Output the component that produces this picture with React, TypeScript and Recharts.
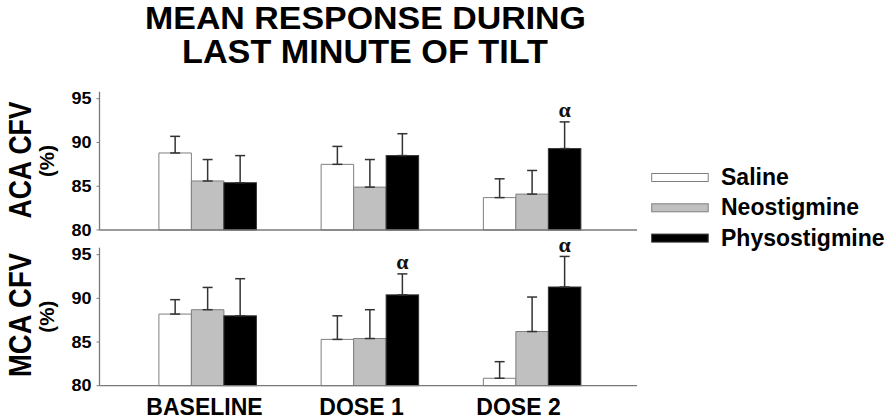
import React from 'react';
import { BarChart, Bar, XAxis, YAxis, ErrorBar, Legend } from 'recharts';

const FONT = '"Liberation Sans", Arial, Helvetica, sans-serif';

// ---- data ----
const categories = ['BASELINE', 'DOSE 1', 'DOSE 2'];
const seriesNames = ['Saline', 'Neostigmine', 'Physostigmine'];
const yTicks = [80, 85, 90, 95];

const acaSaline = [88.8, 87.5, 83.7];
const acaSalineErr = [1.9, 2.05, 2.15];
const acaNeo = [85.6, 84.9, 84.1];
const acaNeoErr = [2.45, 3.15, 2.7];
const acaPhyso = [85.4, 88.5, 89.3];
const acaPhysoErr = [3.1, 2.5, 3.05];
const acaMarks = ['', '', 'α'];

const mcaSaline = [88.2, 85.3, 80.85];
const mcaSalineErr = [1.65, 2.7, 1.9];
const mcaNeo = [88.7, 85.4, 86.2];
const mcaNeoErr = [2.55, 3.3, 3.95];
const mcaPhyso = [88.0, 90.4, 91.3];
const mcaPhysoErr = [4.25, 2.4, 3.5];
const mcaMarks = ['', 'α', 'α'];

// ---- styles ----
const fills = ['#ffffff', '#c0c0c0', '#000000'];
const strokes = ['#7f7f7f', '#7f7f7f', '#333333'];
const AXIS = '#7a7a7a';
const ERR = '#333333';
const Y_MIN = 80;
const Y_MAX = 95.8;

function buildRows(sal, salE, neo, neoE, phy, phyE, marks) {
  return categories.map((cat, i) => ({
    cat,
    saline: sal[i],
    salineErr: [0, salE[i]],
    neo: neo[i],
    neoErr: [0, neoE[i]],
    physo: phy[i],
    physoErr: [0, phyE[i]],
    physoErrHi: phyE[i],
    mark: marks[i],
  }));
}

const acaRows = buildRows(acaSaline, acaSalineErr, acaNeo, acaNeoErr, acaPhyso, acaPhysoErr, acaMarks);
const mcaRows = buildRows(mcaSaline, mcaSalineErr, mcaNeo, mcaNeoErr, mcaPhyso, mcaPhysoErr, mcaMarks);

const PhysoShape = (props: any) => {
  const { x, y, width, height, payload, fill, stroke } = props;
  const unit = height / (payload.physo - Y_MIN);
  const errTop = y - payload.physoErrHi * unit;
  return (
    <g>
      <rect x={x} y={y} width={width} height={height} fill={fill} stroke={stroke} strokeWidth={1} />
      {payload.mark ? (
        <text
          x={x + width / 2}
          y={errTop - 4.5}
          textAnchor="middle"
          fontFamily='"Liberation Serif", "Times New Roman", serif'
          fontWeight="bold"
          fontSize={22}
          fill="#111"
        >
          {payload.mark}
        </text>
      ) : null}
    </g>
  );
};

const CatTick = (props: any) => {
  const { x, y, payload } = props;
  return (
    <text x={x} y={y + 29} textAnchor="middle" fontFamily={FONT} fontWeight="bold" fontSize={23} fill="#000">
      {payload.value}
    </text>
  );
};

const ValueTick = (props: any) => {
  const { x, y, payload } = props;
  const s = String(payload.value);
  return (
    <text
      x={x}
      y={y + 5.5}
      textAnchor="end"
      fontFamily={FONT}
      fontWeight="bold"
      fontSize={16}
      fill="#000"
      textLength={s.length * 10}
      lengthAdjust="spacingAndGlyphs"
    >
      {s}
    </text>
  );
};

const LegendContent = () => (
  <svg width={250} height={95}>
    {seriesNames.map((name, i) => {
      const cy = 17.5 + i * 30.3;
      return (
        <g key={name}>
          <rect x={6.7} y={cy - 4} width={56.5} height={8} fill={fills[i]} stroke={strokes[i]} strokeWidth={1} />
          <text x={76} y={cy + 7.5} fontFamily={FONT} fontWeight="bold" fontSize={23} fill="#000">
            {name}
          </text>
        </g>
      );
    })}
  </svg>
);

function Bars() {
  return [
    <Bar key="s" dataKey="saline" name={seriesNames[0]} fill={fills[0]} stroke={strokes[0]} strokeWidth={1} isAnimationActive={false}>
      <ErrorBar dataKey="salineErr" width={5} stroke={ERR} strokeWidth={1.5} direction="y" />
    </Bar>,
    <Bar key="n" dataKey="neo" name={seriesNames[1]} fill={fills[1]} stroke={strokes[1]} strokeWidth={1} isAnimationActive={false}>
      <ErrorBar dataKey="neoErr" width={5} stroke={ERR} strokeWidth={1.5} direction="y" />
    </Bar>,
    <Bar key="p" dataKey="physo" name={seriesNames[2]} fill={fills[2]} stroke={strokes[2]} strokeWidth={1} isAnimationActive={false} shape={PhysoShape}>
      <ErrorBar dataKey="physoErr" width={5} stroke={ERR} strokeWidth={1.5} direction="y" />
    </Bar>,
  ];
}

const xPadding = { left: 27.4, right: 23.4 };
const labelPadding = { left: 26.5, right: 40 };

function ValueAxis() {
  return (
    <YAxis
      width={60}
      domain={[Y_MIN, Y_MAX]}
      ticks={yTicks}
      tick={ValueTick}
      tickSize={3}
      tickMargin={5}
      tickLine={{ stroke: AXIS }}
      axisLine={{ stroke: AXIS, strokeWidth: 1.3 }}
    />
  );
}

export default function App() {
  return (
    <div style={{ position: 'absolute', left: 0, top: 0, width: 896, height: 420, background: '#fff', overflow: 'hidden' }}>
      <div style={{ position: 'absolute', left: 0, top: 0 }}>
        <BarChart
          width={896}
          height={240}
          data={acaRows}
          margin={{ top: 91.7, right: 259, bottom: 9, left: 39.5 }}
          barSize={32.5}
          barGap={0}
        >
          <XAxis
            dataKey="cat"
            height={1}
            tick={false}
            tickLine={false}
            axisLine={{ stroke: AXIS, strokeWidth: 1.3 }}
            padding={xPadding}
          />
          {ValueAxis()}
          {Bars()}
          <Legend
            layout="horizontal"
            verticalAlign="middle"
            align="center"
            wrapperStyle={{ left: 645, top: 160, width: 250, height: 95 }}
            content={LegendContent}
          />
        </BarChart>
      </div>
      <div style={{ position: 'absolute', left: 0, top: 200 }}>
        <BarChart
          width={896}
          height={220}
          data={mcaRows}
          margin={{ top: 47.7, right: 259, bottom: 0, left: 39.5 }}
          barSize={32.5}
          barGap={0}
        >
          <XAxis
            dataKey="cat"
            height={0.01}
            tick={false}
            tickLine={false}
            axisLine={{ stroke: AXIS, strokeWidth: 1.3 }}
            padding={xPadding}
          />
          <XAxis
            xAxisId="labels"
            dataKey="cat"
            height={34.3}
            tick={CatTick}
            tickSize={0}
            tickMargin={0}
            tickLine={false}
            axisLine={false}
            padding={labelPadding}
          />
          {ValueAxis()}
          {Bars()}
        </BarChart>
      </div>
      <svg width={896} height={420} style={{ position: 'absolute', left: 0, top: 0, pointerEvents: 'none' }}>
        <g fontFamily={FONT} fontWeight="bold" fill="#000">
          <text x={365.5} y={29} textAnchor="middle" fontSize={32} textLength={441} lengthAdjust="spacingAndGlyphs">MEAN RESPONSE DURING</text>
          <text x={365} y={63} textAnchor="middle" fontSize={32.5} textLength={366} lengthAdjust="spacingAndGlyphs">LAST MINUTE OF TILT</text>
          <text transform="translate(19.5,160) rotate(-90)" textAnchor="middle" dominantBaseline="central" fontSize={32} textLength={117} lengthAdjust="spacingAndGlyphs">ACA CFV</text>
          <text transform="translate(46,161) rotate(-90)" textAnchor="middle" dominantBaseline="central" fontSize={21} textLength={32} lengthAdjust="spacingAndGlyphs">(%)</text>
          <text transform="translate(19.5,315) rotate(-90)" textAnchor="middle" dominantBaseline="central" fontSize={32} textLength={124} lengthAdjust="spacingAndGlyphs">MCA CFV</text>
          <text transform="translate(46,316.7) rotate(-90)" textAnchor="middle" dominantBaseline="central" fontSize={21} textLength={32} lengthAdjust="spacingAndGlyphs">(%)</text>
        </g>
      </svg>
    </div>
  );
}
